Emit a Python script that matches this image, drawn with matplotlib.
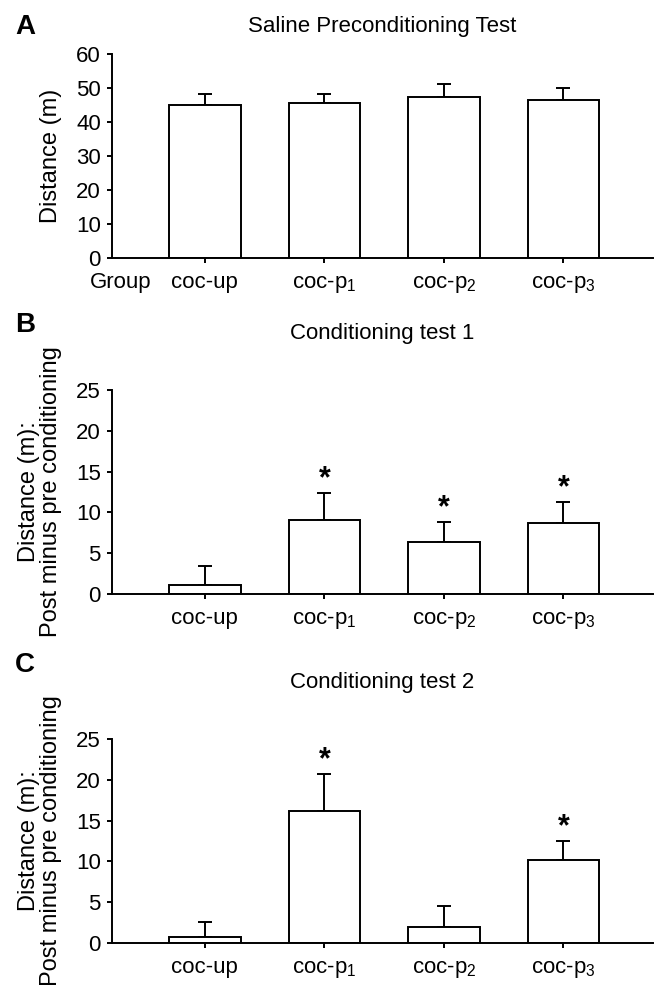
import matplotlib
matplotlib.use('Agg')
import matplotlib.pyplot as plt

plt.rcParams['font.family'] = ['Liberation Sans', 'DejaVu Sans']

groups = ['coc-up', 'coc-p$\\mathregular{_1}$', 'coc-p$\\mathregular{_2}$', 'coc-p$\\mathregular{_3}$']

# panel A: saline preconditioning test, distance (m)
sal_mean = [45.1, 45.5, 47.2, 46.4]
sal_err = [3.1, 2.7, 4.0, 3.5]

# panel B: conditioning test 1, post minus pre
ct1_mean = [1.1, 9.1, 6.4, 8.7]
ct1_err = [2.3, 3.3, 2.4, 2.6]
ct1_sig = [False, True, True, True]

# panel C: conditioning test 2, post minus pre
ct2_mean = [0.8, 16.2, 2.0, 10.2]
ct2_err = [1.8, 4.5, 2.5, 2.3]
ct2_sig = [False, True, False, True]

fig = plt.figure(figsize=(6.57, 9.85), dpi=100)

L, W, H = 0.170, 0.824, 0.2071
panels = [
    ('A', 'Saline Preconditioning Test', sal_mean, sal_err, None, 60, 10, 'Distance (m)', 0.7381, 0.9726),
    ('B', 'Conditioning test 1', ct1_mean, ct1_err, ct1_sig, 25, 5, 'Distance (m):\nPost minus pre conditioning', 0.3970, 0.6700),
    ('C', 'Conditioning test 2', ct2_mean, ct2_err, ct2_sig, 25, 5, 'Distance (m):\nPost minus pre conditioning', 0.0426, 0.3249),
]

for letter, title, means, errs, sig, ymax, ystep, ylab, bottom, ly in panels:
    ax = fig.add_axes([L, bottom, W, H])
    x = list(range(len(means)))
    ax.bar(x, means, width=0.6, color='white', edgecolor='black', linewidth=1.4, zorder=2)
    ax.errorbar(x, means, yerr=[[0]*len(errs), errs], fmt='none', ecolor='black',
                elinewidth=1.4, capsize=4.8, capthick=1.4, zorder=1)
    ax.set_xlim(-0.78, 3.75)
    ax.set_ylim(0, ymax)
    ax.set_yticks(range(0, ymax + 1, ystep))
    ax.set_xticks(x)
    ax.set_xticklabels(groups)
    for lbl in ax.get_xticklabels():
        lbl.set_va('baseline')
    for s in ['top', 'right']:
        ax.spines[s].set_visible(False)
    for s in ['left', 'bottom']:
        ax.spines[s].set_linewidth(1.4)
    ax.tick_params(axis='both', direction='out', length=3.8, width=1.4, labelsize=16)
    ax.tick_params(axis='x', pad=17.5)
    ax.tick_params(axis='y', pad=4)
    ax.set_ylabel(ylab, fontsize=17, linespacing=1.0)
    ax.yaxis.set_label_coords(-0.092, 0.5)

    if letter == 'A':
        ax.set_title(title, fontsize=16, pad=16)
        ax.annotate('Group', xy=(0.016, 0), xycoords='axes fraction', xytext=(0, -21.3),
                    textcoords='offset points', ha='center', va='baseline', fontsize=16)
    else:
        ax.set_title(title, fontsize=16, pad=37)

    if sig is not None:
        for i in x:
            if sig[i]:
                ax.annotate('*', xy=(i, means[i] + errs[i]), xytext=(0, -1),
                            textcoords='offset points', ha='center', va='bottom',
                            fontsize=22, fontweight='bold')

    fig.text(0.023, ly, letter, fontsize=20, fontweight='bold', ha='left', va='center')

fig.savefig('out.png', dpi=100)
